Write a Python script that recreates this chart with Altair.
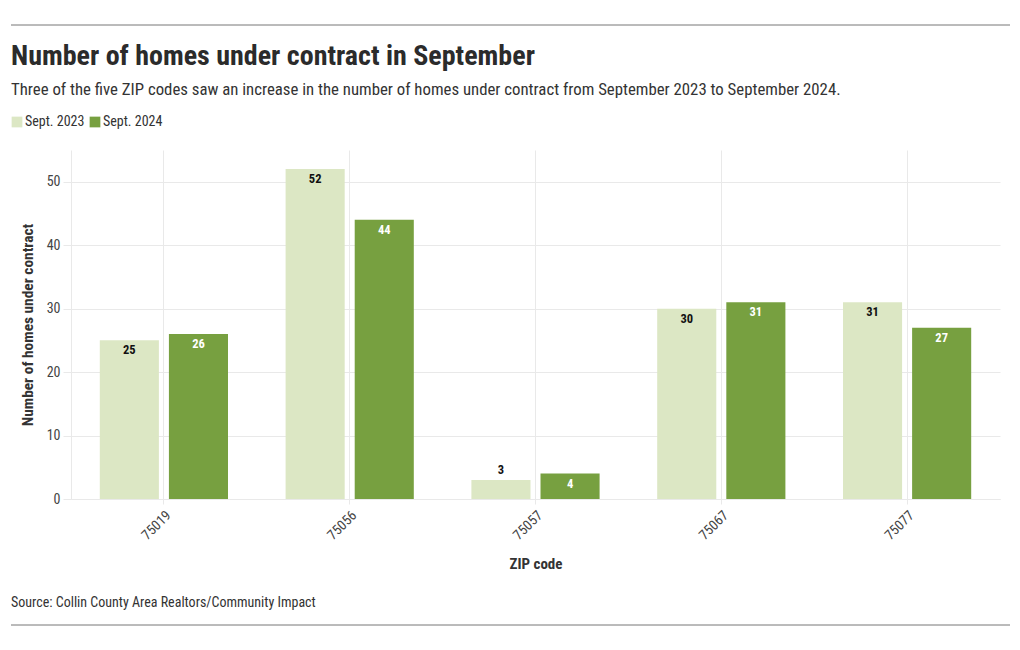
import altair as alt
import pandas as pd

zips = ["75019", "75056", "75057", "75067", "75077"]
sept_2023 = [25, 52, 3, 30, 31]
sept_2024 = [26, 44, 4, 31, 27]
series_names = ["Sept. 2023", "Sept. 2024"]
series_colors = ["#dce7c4", "#77a040"]

title_text = "Number of homes under contract in September"
subtitle_text = ("Three of the five ZIP codes saw an increase in the number of homes under "
                 "contract from September 2023 to September 2024.")
source_text = "Source: Collin County Area Realtors/Community Impact"

rows = []
for i, z in enumerate(zips):
    rows.append({"zip": z, "series": series_names[0], "value": sept_2023[i]})
    rows.append({"zip": z, "series": series_names[1], "value": sept_2024[i]})
df = pd.DataFrame(rows)

FONT = "Liberation Sans Narrow, Roboto Condensed, Roboto, sans-serif"
GRID = "#e9e9e9"

base = alt.Chart(df)

x_enc = alt.X(
    "zip:N",
    sort=zips,
    scale=alt.Scale(paddingInner=0.31, paddingOuter=0.155),
    axis=alt.Axis(
        title="ZIP code", labelAngle=-45, labelFontSize=14, labelColor="#444",
        labelFont=FONT, titleFont=FONT, titleFontSize=15, titleFontWeight="bold",
        titleColor="#333", titlePadding=14, grid=True, gridColor=GRID,
        domainColor=GRID, tickColor=GRID, tickSize=5, labelPadding=4,
    ),
)
xoff = alt.XOffset("series:N", sort=series_names,
                   scale=alt.Scale(paddingInner=0.145, paddingOuter=0))
y_enc = alt.Y(
    "value:Q",
    scale=alt.Scale(domain=[0, 55], nice=False),
    axis=alt.Axis(
        title="Number of homes under contract", values=[0, 10, 20, 30, 40, 50],
        labelFontSize=14, labelColor="#444", labelFont=FONT, titleFont=FONT,
        titleFontSize=15.4, titleFontWeight="bold", titleColor="#333",
        titlePadding=11, gridColor=GRID, domainColor=GRID, tickColor=GRID,
        tickSize=8, labelPadding=3,
    ),
)
color_enc = alt.Color(
    "series:N",
    sort=series_names,
    scale=alt.Scale(domain=series_names, range=series_colors),
    legend=alt.Legend(
        title=None, orient="none", legendX=-61, legendY=-35, direction="horizontal",
        symbolType="square", symbolSize=115, symbolStrokeWidth=0,
        labelFontSize=14, labelFont=FONT, labelColor="#333", columnPadding=3,
        labelOffset=1, symbolOpacity=1,
    ),
)

bars = base.mark_bar().encode(x=x_enc, xOffset=xoff, y=y_enc, color=color_enc)

label_color = alt.condition(
    alt.datum.series == series_names[1], alt.value("#ffffff"), alt.value("#111111")
)
labels_in = base.transform_filter(alt.datum.value >= 4).mark_text(
    baseline="middle", dy=10, fontSize=12.5, fontWeight="bold", font=FONT
).encode(x=alt.X("zip:N", sort=zips), xOffset=alt.XOffset("series:N", sort=series_names),
         y="value:Q", text="value:Q", color=label_color)
labels_out = base.transform_filter(alt.datum.value < 4).mark_text(
    baseline="middle", dy=-10, fontSize=12.5, fontWeight="bold", font=FONT
).encode(x=alt.X("zip:N", sort=zips), xOffset=alt.XOffset("series:N", sort=series_names),
         y="value:Q", text="value:Q", color=label_color)

one = alt.Data(values=[{"k": 1}])


def txt(t, y, size, weight="normal", color="#333"):
    return alt.Chart(one).mark_text(
        text=t, align="left", baseline="middle", fontSize=size, fontWeight=weight,
        font=FONT, color=color,
    ).encode(x=alt.value(-60), y=alt.value(y))


def hrule(y):
    return alt.Chart(one).mark_rule(color="#777777", strokeWidth=1).encode(
        x=alt.value(-60), x2=alt.value(939), y=alt.value(y)
    )


chart = alt.layer(
    bars, labels_in, labels_out,
    txt(title_text, -93, 28, "bold", "#2b2b2b"),
    txt(subtitle_text, -60, 16.8, "normal", "#333"),
    txt(source_text, 453, 14, "normal", "#333"),
    hrule(-125), hrule(475),
).properties(
    width=929, height=349,
    autosize=alt.AutoSizeParams(type="none"),
    padding={"left": 63, "top": 142, "right": 12, "bottom": 140},
).configure_view(stroke="transparent")

chart.save("out.html", embed_options={"renderer": "svg", "actions": False})
